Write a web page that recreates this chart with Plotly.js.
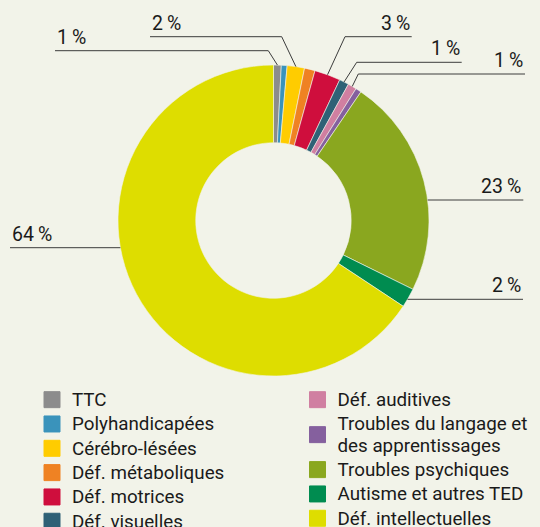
<!DOCTYPE html>
<html><head><meta charset="utf-8">
<script src="https://cdn.plot.ly/plotly-3.0.1.min.js"></script>
<style>html,body{margin:0;padding:0;background:#f2f3e9;} #chart{width:540px;height:527px;}</style>
</head><body><div id="chart"></div>
<script>
// ---- data ----
const categories = ['TTC', 'Polyhandicapées', 'Cérébro-lésées', 'Déf. métaboliques', 'Déf. motrices', 'Déf. visuelles',
  'Déf. auditives', 'Troubles du langage et<br>des apprentissages', 'Troubles psychiques', 'Autisme et autres TED', 'Déf. intellectuelles'];
const shares = [0.8, 0.6, 1.8, 1.1, 2.7, 1.0, 0.9, 0.6, 22.8, 2.0, 65.7];
const shareLabels = ['1\u2009%', '', '2\u2009%', '', '3\u2009%', '1\u2009%', '1\u2009%', '', '23\u2009%', '2\u2009%', '64\u2009%'];
const colors = ['#8c8c8c', '#3a93bb', '#ffcc00', '#ef8223', '#cf0e3d', '#2f6176', '#d07fa1', '#85609e', '#8aa71f', '#008c50', '#dedd00'];
const legendSplit = 6;

// ---- layout config (pixels) ----
const W = 540, H = 527;
const BG = '#f2f3e9';
const FONT = 'Roboto, "Noto Sans", sans-serif';
const LEGEND_GLYPH_PX = 18.8;
const pieGeom = {cx: 273.5, cy: 220.5, r: 155.5};
const leaders = {
  0: {elbowX: 268.3, y: 50.7, endX: 55, align: 'left'},
  2: {elbowX: 281.7, y: 36.7, endX: 150, align: 'left'},
  4: {elbowX: 345, y: 36.7, endX: 411.7, align: 'right'},
  5: {elbowX: 356.7, y: 62.3, endX: 461.7, align: 'right'},
  6: {elbowX: 358.3, y: 74, endX: 525, align: 'right'},
  8: {elbowX: null, y: 200, endX: 523.3, align: 'right'},
  9: {elbowX: null, y: 299.3, endX: 523, align: 'right'},
  10: {elbowX: null, y: 247.7, endX: 10, align: 'left'}
};
const px = x => x / W;
const py = y => 1 - y / H;

const total = shares.reduce((a, b) => a + b, 0);
let cum = 0;
const shapes = [], annotations = [];
shares.forEach((v, i) => {
  const a0 = cum / total * 2 * Math.PI;
  cum += v;
  const a1 = cum / total * 2 * Math.PI;
  const L = leaders[i];
  if (!L || !shareLabels[i]) return;
  const mid = (a0 + a1) / 2;
  let ax, ay;
  if (L.elbowX !== null) {
    ax = pieGeom.cx + pieGeom.r * Math.sin(mid);
    ay = pieGeom.cy - pieGeom.r * Math.cos(mid);
    shapes.push({type: 'line', xref: 'paper', yref: 'paper', x0: px(ax), y0: py(ay), x1: px(L.elbowX), y1: py(L.y),
      line: {color: '#3c3c3c', width: 1}});
    ax = L.elbowX;
  } else {
    const side = Math.sin(mid) >= 0 ? 1 : -1;
    const dy = L.y - pieGeom.cy;
    ax = pieGeom.cx + side * Math.sqrt(pieGeom.r * pieGeom.r - dy * dy);
  }
  shapes.push({type: 'line', xref: 'paper', yref: 'paper', x0: px(ax), y0: py(L.y), x1: px(L.endX), y1: py(L.y),
    line: {color: '#3c3c3c', width: 1}});
  annotations.push({xref: 'paper', yref: 'paper', x: px(L.endX), y: py(L.y), xanchor: L.align, yanchor: 'bottom',
    yshift: 0, showarrow: false, text: shareLabels[i], font: {family: FONT, size: 19.5, color: '#1a1a1a'}});
});

const traces = [{
  type: 'pie', labels: categories, values: shares, sort: false, direction: 'clockwise', rotation: 0,
  hole: 0.5, textinfo: 'none', showlegend: false,
  marker: {colors: colors, line: {color: BG, width: 0.6}},
  domain: {x: [px(pieGeom.cx - pieGeom.r), px(pieGeom.cx + pieGeom.r)], y: [py(pieGeom.cy + pieGeom.r), py(pieGeom.cy - pieGeom.r)]}
}];
categories.forEach((c, i) => {
  const txt = c.split('<br>').map(s => '<span style="font-size:' + LEGEND_GLYPH_PX + 'px">' + s + '</span>').join('<br>');
  traces.push({type: 'scatter', mode: 'markers', x: [null], y: [null], name: txt, hoverinfo: 'skip',
    marker: {symbol: 'square', size: 16, color: colors[i], line: {width: 1, color: colors[i]}},
    legend: i < legendSplit ? 'legend' : 'legend2'});
});

const legendBase = {y: py(382.5), xanchor: 'left', yanchor: 'top', bgcolor: 'rgba(0,0,0,0)', borderwidth: 0,
  font: {family: FONT, size: 16.4, color: '#1a1a1a'}, tracegroupgap: 0, itemclick: false, itemdoubleclick: false};

const layout = {
  width: W, height: H, paper_bgcolor: BG, plot_bgcolor: BG,
  margin: {l: 0, r: 0, t: 0, b: 0, pad: 0, autoexpand: false},
  xaxis: {visible: false}, yaxis: {visible: false},
  showlegend: true,
  legend: Object.assign({x: px(32)}, legendBase),
  legend2: Object.assign({x: px(297.5)}, legendBase),
  shapes: shapes, annotations: annotations
};
Plotly.newPlot('chart', traces, layout, {displayModeBar: false});
</script></body></html>
